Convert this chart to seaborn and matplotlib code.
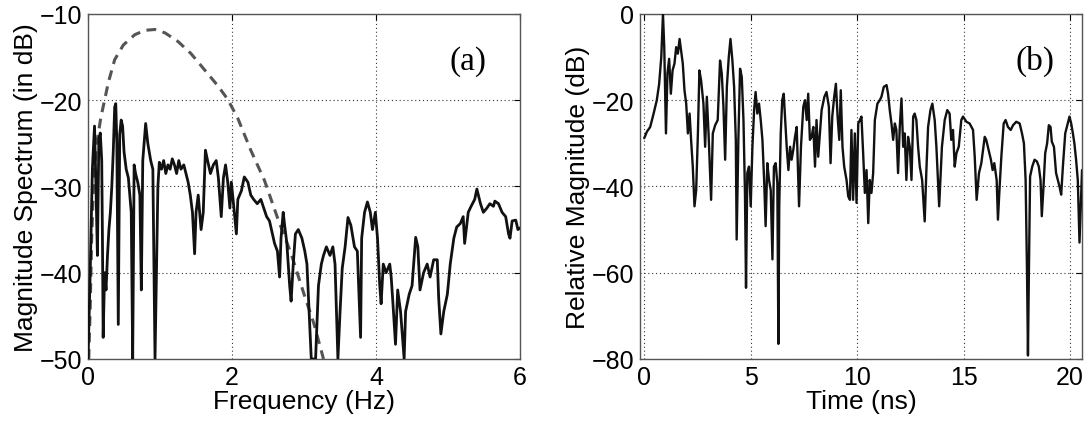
import numpy as np
import pandas as pd
import matplotlib
matplotlib.use("Agg")
import matplotlib.pyplot as plt
import seaborn as sns

# ---------------- data: panel (a) ----------------
freq_hz = [0.00, 0.03, 0.06, 0.09, 0.11, 0.13, 0.15, 0.17, 0.19, 0.20, 0.21, 0.23, 0.25, 0.27, 0.29,
           0.31, 0.33, 0.35, 0.37, 0.385, 0.40, 0.42, 0.44, 0.46, 0.48, 0.50, 0.53, 0.56, 0.60, 0.62,
           0.64, 0.66, 0.69, 0.72, 0.74, 0.76, 0.80, 0.83, 0.87, 0.90, 0.93, 0.95, 0.97, 0.99, 1.02,
           1.05, 1.08, 1.11, 1.14, 1.17, 1.20, 1.23, 1.26, 1.29, 1.33, 1.36, 1.39, 1.42, 1.45, 1.48,
           1.50, 1.53, 1.55, 1.57, 1.60, 1.63, 1.66, 1.70, 1.74, 1.78, 1.81, 1.85, 1.88, 1.91, 1.94,
           1.97, 1.99, 2.02, 2.06, 2.08, 2.13, 2.17, 2.22, 2.26, 2.30, 2.35, 2.40, 2.44, 2.48, 2.52,
           2.56, 2.59, 2.63, 2.66, 2.68, 2.71, 2.73, 2.76, 2.80, 2.82, 2.85, 2.88, 2.92, 2.97, 3.01,
           3.04, 3.10, 3.16, 3.20, 3.24, 3.27, 3.31, 3.36, 3.40, 3.43, 3.47, 3.50, 3.53, 3.57, 3.61,
           3.65, 3.70, 3.74, 3.785, 3.80, 3.84, 3.88, 3.92, 3.95, 3.99, 4.02, 4.05, 4.07, 4.10, 4.14,
           4.19, 4.21, 4.23, 4.27, 4.30, 4.34, 4.39, 4.41, 4.46, 4.50, 4.55, 4.58, 4.61, 4.66, 4.71,
           4.75, 4.80, 4.85, 4.87, 4.90, 4.94, 4.99, 5.03, 5.08, 5.12, 5.17, 5.21, 5.23, 5.28, 5.32,
           5.37, 5.40, 5.45, 5.49, 5.54, 5.58, 5.63, 5.65, 5.70, 5.75, 5.80, 5.84, 5.86, 5.89, 5.94,
           5.97, 6.00]
spectrum_db = [-50, -40, -28, -23, -30, -38, -24.5, -23.8, -27, -36, -47.5, -40, -42, -38, -35,
               -33, -30, -26, -20.8, -20.4, -25, -46, -24, -22.3, -23, -26, -28, -29, -33, -50,
               -27.5, -28.5, -29.5, -31, -42, -27, -22.7, -25, -27, -28, -50, -40, -30, -27.2, -28,
               -27, -28.5, -27.5, -28, -26.8, -27.5, -28.5, -27, -28, -27.5, -28.5, -29.5, -31, -33, -37.8,
               -33, -31, -33, -35, -33, -25.8, -27, -28.5, -27.5, -27, -29, -33.5, -29, -27.5, -29.5,
               -32.5, -29.5, -32, -35.5, -31.5, -30.5, -28.9, -29.5, -31, -31.5, -32, -31.5, -32.5, -33.5, -34,
               -35.5, -36.6, -37.5, -40.5, -36, -33, -34.5, -36.5, -41.5, -43.3, -39, -35.5, -35, -36, -37.5,
               -39, -50, -50, -41.5, -39, -38, -37, -38, -37, -39, -50, -44.5, -39.5, -37, -33.6,
               -34.5, -37, -37.5, -47.5, -36, -33, -31.8, -33, -35, -33, -36, -41.3, -43.6, -39, -40,
               -39, -40.5, -43, -48.3, -42, -44.5, -50, -44.5, -42.5, -41.5, -35.9, -37, -42, -40, -39,
               -40.5, -38.5, -38.5, -43, -47.1, -44.5, -42.5, -39, -36, -34.7, -34.3, -33.5, -36.6, -33, -32.3,
               -31.5, -30.3, -32, -33, -32.5, -32, -32.3, -31.7, -32, -33, -33.5, -35.5, -36, -34, -33.9,
               -35, -34.8]

model_freq_hz = [0.01, 0.03, 0.05, 0.08, 0.12, 0.18, 0.23, 0.28, 0.37, 0.49, 0.65, 0.79, 0.93, 1.07,
                 1.25, 1.43, 1.62, 1.80, 1.94, 2.08, 2.26, 2.45, 2.63, 2.82, 3.00, 3.14, 3.27]
model_db = [-50, -44, -36, -29, -25, -21.9, -20, -18, -15.3, -13.6, -12.4, -11.9, -11.8, -12.2,
            -13.2, -14.6, -16.5, -18.3, -19.9, -22.1, -25.8, -29.3, -33.6, -37.8, -42.5, -46, -50]

# ---------------- data: panel (b) ----------------
time_ns = [0.00, 0.125, 0.28, 0.44, 0.59, 0.70, 0.80, 0.88, 0.94, 1.02, 1.09, 1.17, 1.25, 1.33, 1.42,
           1.50, 1.58, 1.66, 1.73, 1.81, 1.89, 1.97, 2.05, 2.13, 2.20, 2.28, 2.36, 2.44, 2.52, 2.59,
           2.67, 2.78, 2.86, 2.94, 3.02, 3.14, 3.22, 3.33, 3.45, 3.56, 3.64, 3.72, 3.80, 3.88, 3.97,
           4.05, 4.14, 4.22, 4.30, 4.34, 4.42, 4.50, 4.58, 4.66, 4.73, 4.78, 4.84, 4.92, 5.00, 5.08,
           5.16, 5.23, 5.31, 5.39, 5.47, 5.55, 5.63, 5.70, 5.78, 5.86, 5.94, 6.02, 6.09, 6.17, 6.25,
           6.30, 6.34, 6.41, 6.48, 6.55, 6.61, 6.69, 6.77, 6.85, 6.92, 7.00, 7.08, 7.16, 7.27, 7.36,
           7.47, 7.55, 7.63, 7.70, 7.78, 7.86, 7.94, 8.02, 8.09, 8.17, 8.25, 8.33, 8.46, 8.56, 8.67,
           8.75, 8.83, 8.92, 9.00, 9.08, 9.16, 9.23, 9.31, 9.39, 9.50, 9.58, 9.66, 9.73, 9.81, 9.89,
           9.97, 10.05, 10.13, 10.20, 10.28, 10.36, 10.44, 10.52, 10.59, 10.67, 10.75, 10.83, 10.95, 11.06, 11.14,
           11.25, 11.38, 11.45, 11.53, 11.61, 11.69, 11.77, 11.84, 11.92, 12.00, 12.08, 12.16, 12.23, 12.31, 12.39,
           12.47, 12.55, 12.63, 12.70, 12.78, 12.86, 12.94, 13.05, 13.17, 13.25, 13.33, 13.44, 13.53, 13.64, 13.72,
           13.85, 13.98, 14.11, 14.23, 14.34, 14.42, 14.50, 14.58, 14.66, 14.77, 14.89, 14.97, 15.13, 15.28, 15.44,
           15.52, 15.61, 15.72, 15.83, 15.99, 16.06, 16.17, 16.28, 16.36, 16.44, 16.55, 16.61, 16.69, 16.77, 16.88,
           16.97, 17.08, 17.21, 17.32, 17.47, 17.63, 17.74, 17.83, 17.91, 17.98, 18.02, 18.06, 18.12, 18.22, 18.33,
           18.44, 18.53, 18.61, 18.67, 18.75, 18.83, 18.92, 19.00, 19.08, 19.14, 19.24, 19.34, 19.42, 19.50, 19.58,
           19.66, 19.77, 19.89, 19.97, 20.05, 20.13, 20.20, 20.28, 20.36, 20.44, 20.52, 20.56]
rel_mag_db = [-28.8, -27.3, -26.2, -23.1, -20.0, -16.2, -10.0, 0.0, -7.7, -27.7, -13.8, -10.4, -18.5, -13.1, -11.5,
              -7.7, -9.2, -5.8, -8.5, -11.5, -17.7, -20.8, -27.7, -23.1, -29.2, -35.4, -44.6, -40.8, -27.7, -13.1,
              -15.4, -20.8, -30.8, -19.2, -27.7, -43.1, -27.7, -25.8, -24.6, -10.8, -13.8, -21.5, -33.8, -16.9, -10.0,
              -5.8, -10.8, -16.9, -29.2, -52.3, -29.2, -12.7, -14.6, -24.6, -41.5, -63.5, -36.9, -35.4, -44.6, -30.8,
              -22.3, -18.1, -23.1, -20.8, -24.6, -29.2, -38.5, -49.2, -34.6, -38.5, -40.8, -56.9, -35.4, -34.6, -39.2,
              -76.5, -44.6, -27.7, -20.0, -18.5, -23.8, -30.8, -36.2, -30.8, -33.8, -31.5, -28.5, -26.2, -44.6, -30.8,
              -21.5, -20.0, -24.6, -18.5, -29.2, -28.5, -26.2, -35.4, -24.6, -33.1, -27.7, -22.3, -19.2, -18.1, -21.5,
              -34.6, -23.8, -19.2, -16.2, -23.8, -29.2, -17.7, -30.8, -35.4, -38.5, -42.3, -43.1, -26.9, -43.1, -27.7,
              -43.8, -25.4, -24.6, -23.8, -32.3, -41.5, -36.2, -48.5, -38.5, -41.5, -36.9, -24.6, -20.8, -20.0, -19.2,
              -16.9, -16.5, -18.5, -22.3, -25.4, -29.2, -25.4, -26.9, -36.9, -26.2, -19.6, -30.8, -27.7, -38.5, -28.5,
              -30.8, -38.5, -23.8, -23.1, -24.6, -30.8, -35.4, -38.5, -48.1, -36.2, -26.2, -22.3, -20.8, -24.6, -30.8,
              -44.6, -30.8, -24.6, -22.3, -23.1, -29.2, -26.9, -35.4, -32.3, -30.8, -24.6, -23.8, -25.0, -25.4, -26.9,
              -33.1, -43.1, -36.9, -34.6, -28.5, -29.2, -31.5, -33.8, -36.2, -34.6, -38.5, -47.7, -40.0, -33.1, -25.4,
              -24.6, -26.2, -26.9, -25.8, -25.0, -25.4, -27.7, -30.0, -38.5, -61.5, -79.2, -61.5, -37.7, -35.4, -33.8,
              -34.2, -35.4, -38.5, -46.9, -40.0, -32.3, -30.0, -25.8, -26.2, -29.6, -30.8, -36.9, -38.5, -40.0, -41.9,
              -35.4, -27.7, -25.4, -23.8, -25.4, -27.7, -30.0, -33.8, -38.5, -53.0, -41.5, -36.2]

x_ticks_a = [0, 2, 4, 6]
y_ticks_a = [-50, -40, -30, -20, -10]
x_ticks_b = [0, 5, 10, 15, 20]
y_ticks_b = [-80, -60, -40, -20, 0]

# ---------------- style ----------------
sns.set_style("white")
plt.rcParams["font.family"] = ["Liberation Sans", "DejaVu Sans"]
plt.rcParams["axes.unicode_minus"] = True
plt.rcParams["text.color"] = "black"
plt.rcParams["axes.labelcolor"] = "black"
plt.rcParams["xtick.color"] = "black"
plt.rcParams["ytick.color"] = "black"

fig = plt.figure(figsize=(10.91, 4.27), dpi=100)
ax_a = fig.add_axes([0.0807, 0.157, 0.396, 0.808])
ax_b = fig.add_axes([0.5866, 0.157, 0.405, 0.808])

df_a = pd.DataFrame({"f": freq_hz, "db": spectrum_db})
df_m = pd.DataFrame({"f": model_freq_hz, "db": model_db})
df_b = pd.DataFrame({"t": time_ns, "db": rel_mag_db})

sns.lineplot(data=df_m, x="f", y="db", ax=ax_a, color="#555555", linewidth=2.2,
             linestyle=(0, (3.2, 2.2)), estimator=None, sort=False, zorder=2)
sns.lineplot(data=df_a, x="f", y="db", ax=ax_a, color="#111111", linewidth=2.0,
             estimator=None, sort=False, zorder=3)
sns.lineplot(data=df_b, x="t", y="db", ax=ax_b, color="#111111", linewidth=1.7,
             estimator=None, sort=False, zorder=3)


def style_axis(ax, xlim, ylim, xt, yt):
    ax.set_xlim(*xlim)
    ax.set_ylim(*ylim)
    ax.set_xticks(xt)
    ax.set_yticks(yt)
    ax.grid(True, linestyle=(0, (1, 2.5)), color="#333333", linewidth=0.8)
    ax.tick_params(direction="in", length=4, width=0.8, top=True, right=True,
                   labelsize=18, pad=4, colors="black")
    for s in ax.spines.values():
        s.set_color("#555555")
        s.set_linewidth(1.0)
        s.set_visible(True)


style_axis(ax_a, (0, 6), (-50, -10), x_ticks_a, y_ticks_a)
style_axis(ax_b, (-0.2, 20.55), (-80, 0), x_ticks_b, y_ticks_b)

ax_a.set_xlabel("Frequency (Hz)", fontsize=19, labelpad=0, color="black")
ax_a.set_ylabel("Magnitude Spectrum (in dB)", fontsize=19, labelpad=1, color="black")
ax_b.set_xlabel("Time (ns)", fontsize=19, labelpad=0, color="black")
ax_b.set_ylabel("Relative Magnitude (dB)", fontsize=19, labelpad=1, color="black")

ax_a.text(0.88, 0.865, "(a)", transform=ax_a.transAxes, ha="center", va="center",
          fontsize=24, color="black", family=["Liberation Serif", "DejaVu Serif"])
ax_b.text(0.895, 0.865, "(b)", transform=ax_b.transAxes, ha="center", va="center",
          fontsize=24, color="black", family=["Liberation Serif", "DejaVu Serif"])

fig.savefig("out.png", dpi=100)
